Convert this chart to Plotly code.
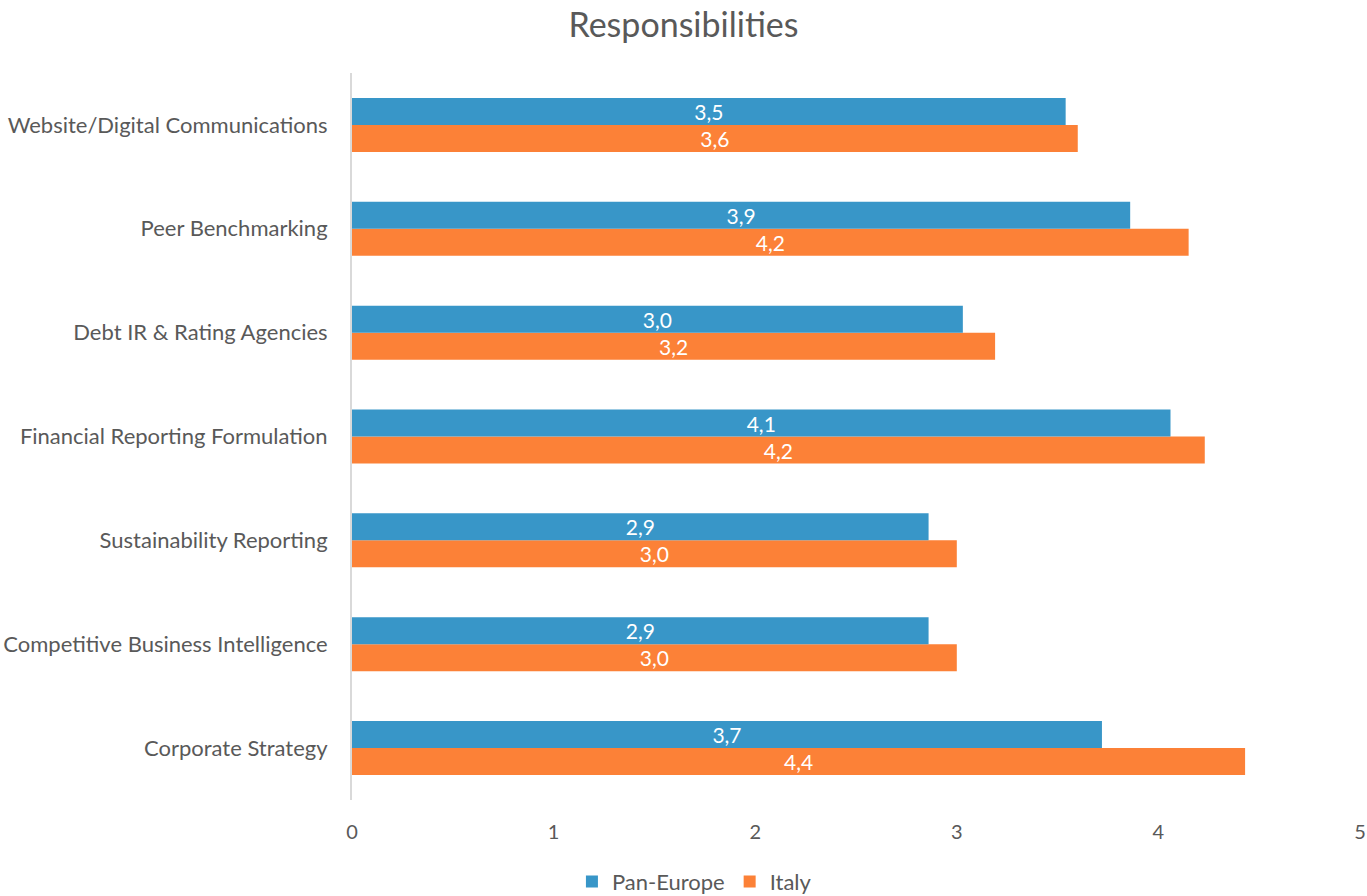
import plotly.graph_objects as go

categories = [
    "Corporate Strategy",
    "Competitive Business Intelligence",
    "Sustainability Reporting",
    "Financial Reporting Formulation",
    "Debt IR & Rating Agencies",
    "Peer Benchmarking",
    "Website/Digital Communications",
]
pan_europe = [3.72, 2.86, 2.86, 4.06, 3.03, 3.86, 3.54]
italy = [4.43, 3.00, 3.00, 4.23, 3.19, 4.15, 3.60]
x_ticks = [0, 1, 2, 3, 4, 5]

FONT = "Lato, 'Open Sans', sans-serif"
GREY = "#595959"

fig = go.Figure()
fig.add_trace(go.Bar(
    name="Italy", y=categories, x=italy, orientation="h",
    marker=dict(color="#FC8137", line=dict(width=0)),
    texttemplate="%{x:.1f}", textposition="inside", insidetextanchor="middle",
    constraintext="none",
    textfont=dict(color="white", size=21, family=FONT),
))
fig.add_trace(go.Bar(
    name="Pan-Europe", y=categories, x=pan_europe, orientation="h",
    marker=dict(color="#3896C8", line=dict(width=0)),
    texttemplate="%{x:.1f}", textposition="inside", insidetextanchor="middle",
    constraintext="none",
    textfont=dict(color="white", size=21, family=FONT),
))

fig.update_layout(
    width=1367, height=896,
    separators=",.",
    barmode="group", bargap=0.48, bargroupgap=0,
    paper_bgcolor="white", plot_bgcolor="white",
    font=dict(family=FONT, color=GREY, size=20),
    title=dict(text="Responsibilities", x=0.5, xanchor="center", xref="container",
               y=0.972, yanchor="middle", yref="container",
               font=dict(size=34, color=GREY, family=FONT)),
    margin=dict(l=352, r=7, t=73, b=96, autoexpand=False),
    xaxis=dict(range=[0, 5], tickvals=x_ticks, showgrid=False, zeroline=False,
               showline=False, ticks="", ticklabelstandoff=18,
               tickfont=dict(size=20, color=GREY)),
    yaxis=dict(showgrid=False, zeroline=False, showline=True, linecolor="#D9D9D9",
               linewidth=2, ticks="", ticklabelstandoff=18,
               tickfont=dict(size=22, color=GREY)),
    legend=dict(orientation="h", x=0.508, xanchor="center", xref="container",
                yref="container", y=0.016, yanchor="middle",
                traceorder="reversed", font=dict(size=22, color=GREY)),
)

fig.write_html("out.html")
